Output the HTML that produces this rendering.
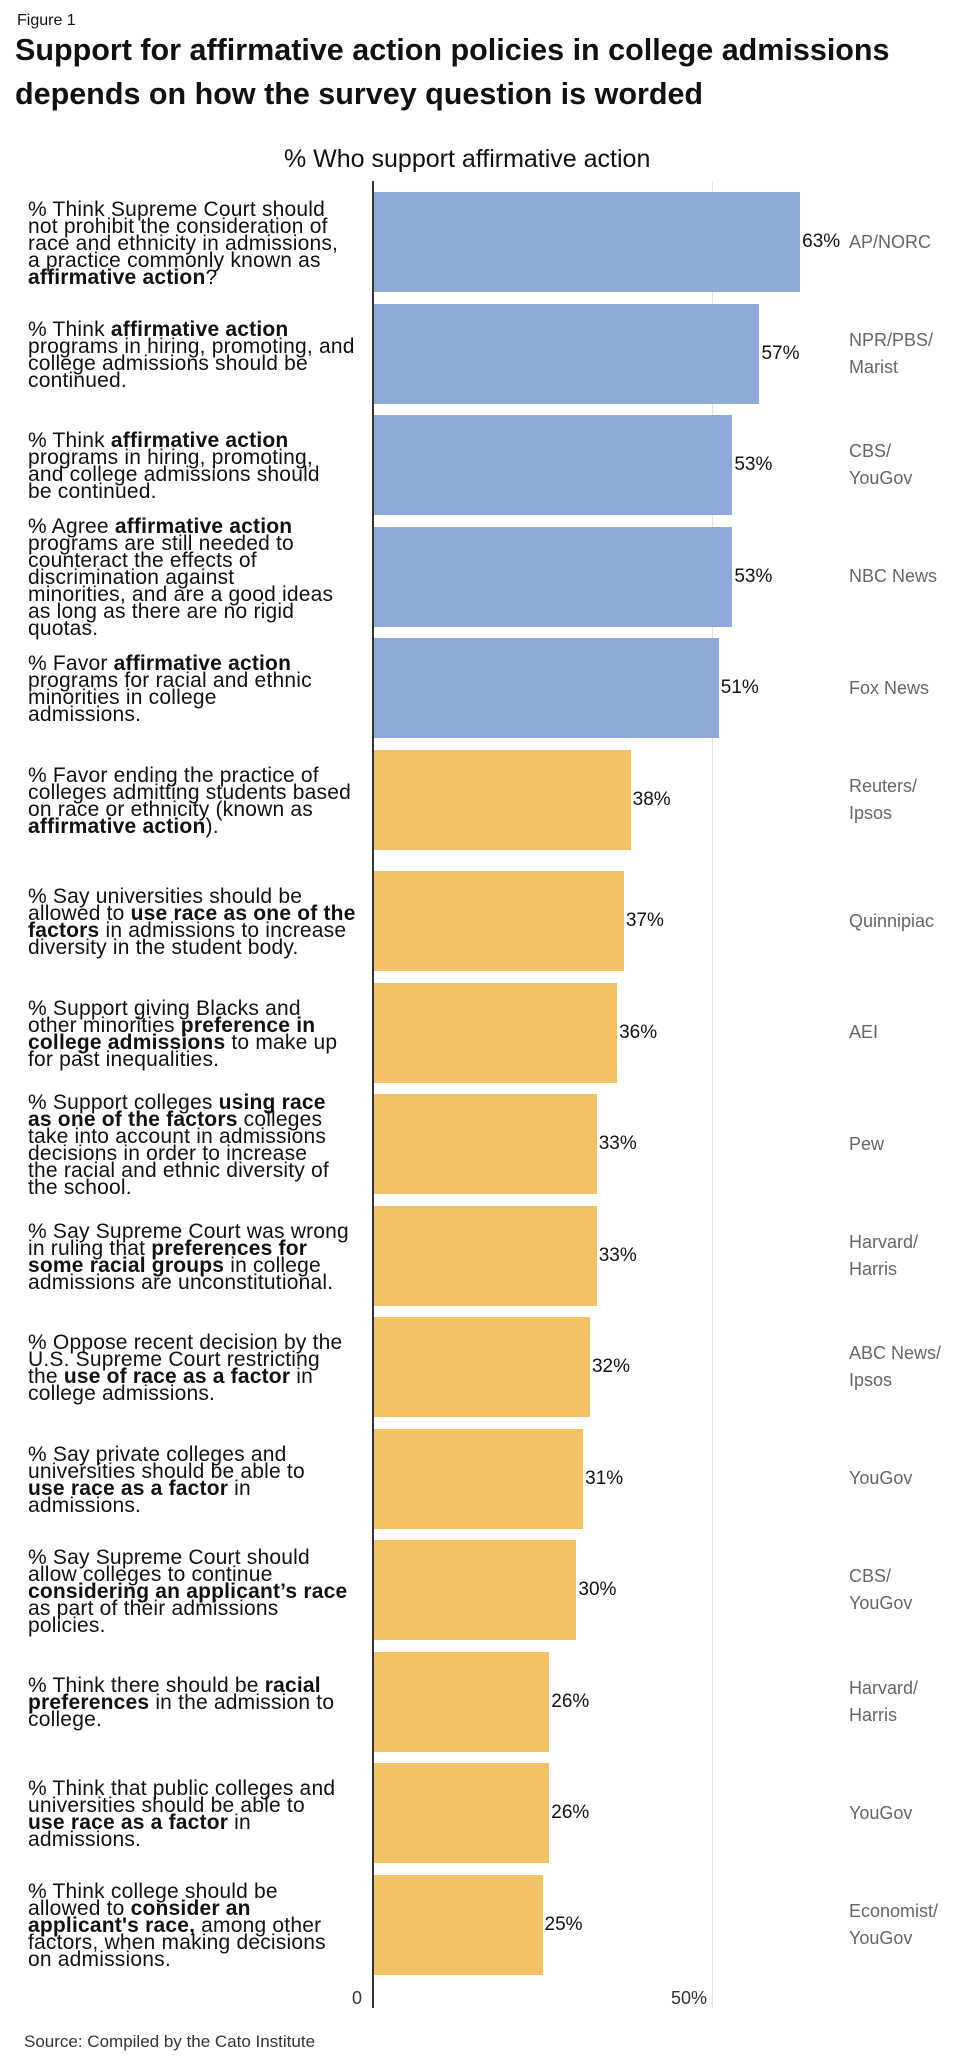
<!DOCTYPE html>
<html><head><meta charset="utf-8">
<style>
body{margin:0;background:#fff;}
#root{position:relative;width:970px;height:2058px;overflow:hidden;background:#fff;font-family:"Liberation Sans Narrow","Liberation Sans",sans-serif;color:#111;}
.abs{position:absolute;}
.lbl{position:absolute;left:28px;width:345px;font-size:21px;line-height:17px;letter-spacing:0.2px;color:#111;}
.lbl b{font-weight:bold;}
.val{position:absolute;font-size:19px;line-height:20px;color:#111;}
.src{position:absolute;left:849px;font-size:18px;line-height:27px;color:#666;}
.bar{position:absolute;}
</style></head>
<body>
<div id="root">
  <div class="abs" style="left:17px;top:12px;font-size:16px;">Figure 1</div>
  <div class="abs" style="left:15px;top:28px;font-size:30.5px;font-weight:bold;line-height:44px;">Support for affirmative action policies in college admissions<br>depends on how the survey question is worded</div>
  <div class="abs" style="left:284px;top:145px;font-size:25px;line-height:28px;">% Who support affirmative action</div>
  <div class="abs" style="left:712px;top:181px;width:1px;height:1827px;background:#e2e2e2;"></div>
  <div id="plot"></div>
  <div class="abs" style="left:372px;top:181px;width:2px;height:1827px;background:#333;"></div>
  <div class="abs" style="left:352px;top:1988px;font-size:18px;color:#333;">0</div>
  <div class="abs" style="left:671px;top:1988px;font-size:18px;color:#333;">50%</div>
  <div class="abs" style="left:24px;top:2032px;font-size:17px;color:#333;">Source: Compiled by the Cato Institute</div>
</div>
<script>
const labels = [
"% Think Supreme Court should<br>not prohibit the consideration of<br>race and ethnicity in admissions,<br>a practice commonly known as<br><b>affirmative action</b>?",
"% Think <b>affirmative action</b><br>programs in hiring, promoting, and<br>college admissions should be<br>continued.",
"% Think <b>affirmative action</b><br>programs in hiring, promoting,<br>and college admissions should<br>be continued.",
"% Agree <b>affirmative action</b><br>programs are still needed to<br>counteract the effects of<br>discrimination against<br>minorities, and are a good ideas<br>as long as there are no rigid<br>quotas.",
"% Favor <b>affirmative action</b><br>programs for racial and ethnic<br>minorities in college<br>admissions.",
"% Favor ending the practice of<br>colleges admitting students based<br>on race or ethnicity (known as<br><b>affirmative action</b>).",
"% Say universities should be<br>allowed to <b>use race as one of the<br>factors</b> in admissions to increase<br>diversity in the student body.",
"% Support giving Blacks and<br>other minorities <b>preference in<br>college admissions</b> to make up<br>for past inequalities.",
"% Support colleges <b>using race<br>as one of the factors</b> colleges<br>take into account in admissions<br>decisions in order to increase<br>the racial and ethnic diversity of<br>the school.",
"% Say Supreme Court was wrong<br>in ruling that <b>preferences for<br>some racial groups</b> in college<br>admissions are unconstitutional.",
"% Oppose recent decision by the<br>U.S. Supreme Court restricting<br>the <b>use of race as a factor</b> in<br>college admissions.",
"% Say private colleges and<br>universities should be able to<br><b>use race as a factor</b> in<br>admissions.",
"% Say Supreme Court should<br>allow colleges to continue<br><b>considering an applicant’s race</b><br>as part of their admissions<br>policies.",
"% Think there should be <b>racial<br>preferences</b> in the admission to<br>college.",
"% Think that public colleges and<br>universities should be able to<br><b>use race as a factor</b> in<br>admissions.",
"% Think college should be<br>allowed to <b>consider an<br>applicant's race,</b> among other<br>factors, when making decisions<br>on admissions."
];
const values = [63,57,53,53,51,38,37,36,33,33,32,31,30,26,26,25];
const groups = ["support","support","support","support","support","oppose","oppose","oppose","oppose","oppose","oppose","oppose","oppose","oppose","oppose","oppose"];
const sources = ["AP/NORC","NPR/PBS/<br>Marist","CBS/<br>YouGov","NBC News","Fox News","Reuters/<br>Ipsos","Quinnipiac","AEI","Pew","Harvard/<br>Harris","ABC News/<br>Ipsos","YouGov","CBS/<br>YouGov","Harvard/<br>Harris","YouGov","Economist/<br>YouGov"];

const x0 = 373, xPerPct = (712-373)/50;
function xScale(v){ return x0 + v*xPerPct; }
function yTop(i){ return 192 + i*111.5 + (i>=6?10:0); }
const barH = 100;
const plot = document.getElementById('plot');
values.forEach((v,i)=>{
  const top = yTop(i), mid = top + barH/2;
  const bar = document.createElement('div');
  bar.className='bar';
  
  
  bar.style.left = x0+'px'; bar.style.top = top+'px';
  bar.style.width = (xScale(v)-x0)+'px'; bar.style.height = barH+'px';
  bar.style.background = groups[i]==='support' ? '#8eaad9' : '#f2c265';
  plot.appendChild(bar);

  const lab = document.createElement('div');
  lab.className='lbl';
  
  
  lab.innerHTML = labels[i];
  plot.appendChild(lab);
  lab.style.top = (mid - lab.offsetHeight/2 + 1)+'px';

  const val = document.createElement('div');
  val.className='val';
  
  
  val.textContent = v+'%';
  val.style.left = (xScale(v)+2)+'px';
  val.style.top = (mid-10)+'px';
  plot.appendChild(val);

  const s = document.createElement('div');
  s.className='src';
  
  
  s.innerHTML = sources[i];
  plot.appendChild(s);
  s.style.top = (mid - s.offsetHeight/2)+'px';
});
</script>
</body></html>
